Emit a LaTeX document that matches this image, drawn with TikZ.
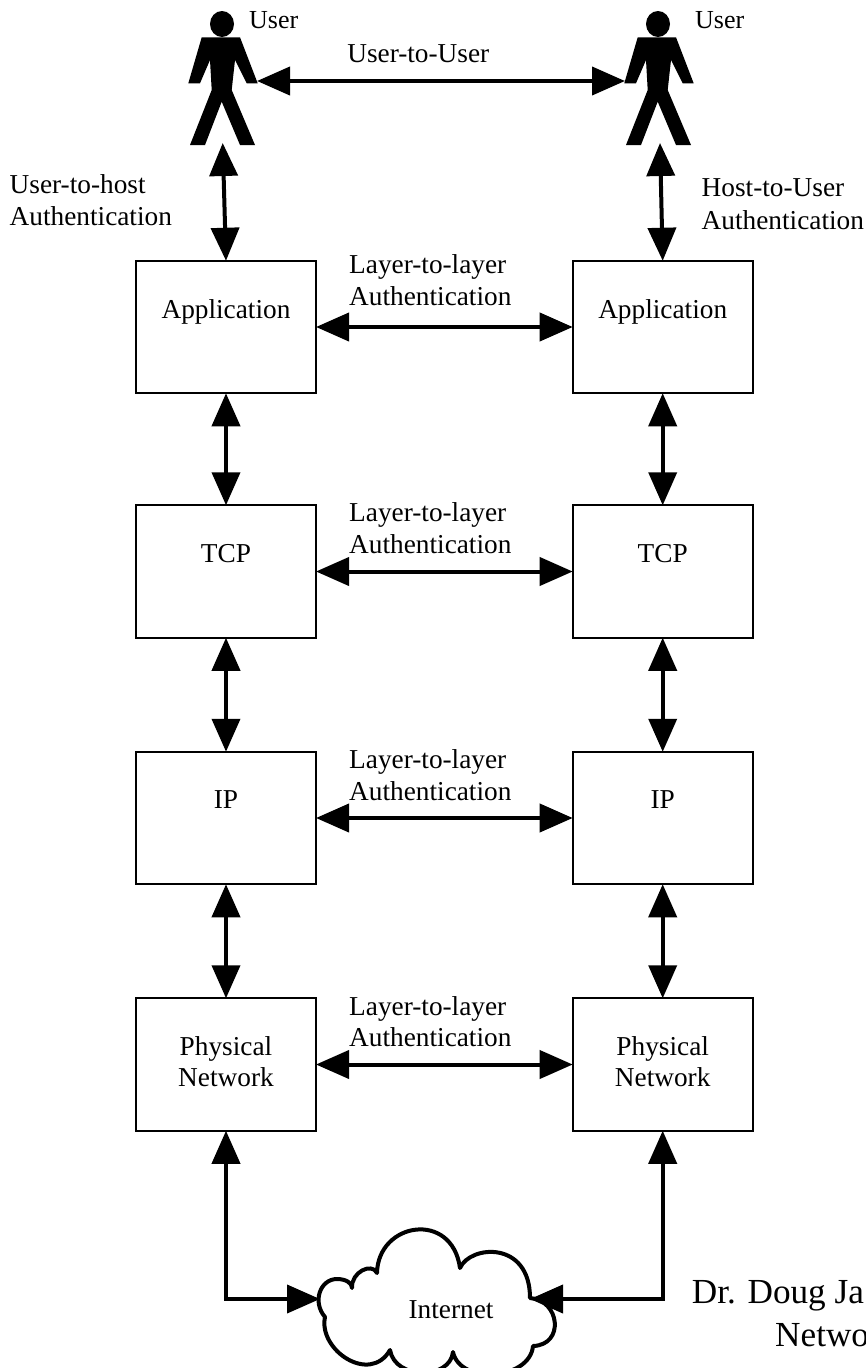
\documentclass[tikz,border=0pt]{standalone}
\usepackage{fontspec}
\setmainfont{Liberation Serif}
\usetikzlibrary{arrows.meta}
\begin{document}
\begin{tikzpicture}[x=1pt,y=-1pt,
  box/.style={draw, line width=2pt, minimum width=180pt, minimum height=132.5pt, inner sep=0pt, outer sep=0pt},
  txt/.style={font=\fontsize{27.3}{31.5}\selectfont, inner sep=0pt, anchor=base},
  lbl/.style={txt, anchor=base west},
  small/.style={font=\fontsize{26}{30}\selectfont, inner sep=0pt, anchor=base west},
  big/.style={font=\fontsize{35.2}{43}\selectfont, inner sep=0pt, anchor=base west},
  dbl/.style={line width=4pt, {Triangle[length=33pt,width=28pt]}-{Triangle[length=33pt,width=28pt]}},
  cloudline/.style={line width=4pt, line join=round},
  person/.style={fill=black}
]
\useasboundingbox (0,0) rectangle (866,1368);
\clip (0,0) rectangle (866,1368);

% ---------- users ----------
\foreach \dx/\nm in {0/L,436/R}{
  \begin{scope}[shift={(\dx,0)}]
    \fill[person] (201.7,37.3) -- (240,37.3) -- (257.7,83.3) -- (246.7,83.3) -- (235,60) -- (231.7,90)
      -- (255,145) -- (240,145) -- (221.7,101.7) -- (205,145) -- (190,145) -- (211.7,90)
      -- (210,60) -- (200,83.3) -- (188.3,83.3) -- cycle;
    \fill[person] (222,24) ellipse [x radius=12, y radius=13];
  \end{scope}
}
\coordinate (uLhand) at (257,81);
\coordinate (uRhand) at (625,81);
\coordinate (uLfeet) at (222.7,143);
\coordinate (uRfeet) at (660,143);

\node[small] (userL) at (249,28) {User};
\node[small] (userR) at (695,28) {User};
\node[txt] (u2u) at (418.3,62.3) {User-to-User};

\node[lbl] (u2h1) at (9.5,193.5) {User-to-host};
\node[lbl] (u2h2) at (9.5,225) {Authentication};
\node[lbl] (h2u1) at (701.5,196.5) {Host-to-User};
\node[lbl] (h2u2) at (701.5,229.5) {Authentication};

% ---------- boxes ----------
\node[box] (appL) at (226,327) {};
\node[box] (appR) at (662.7,327) {};
\node[box] (tcpL) at (226,571.5) {};
\node[box] (tcpR) at (662.7,571.5) {};
\node[box] (ipL) at (226,818) {};
\node[box] (ipR) at (662.7,818) {};
\node[box] (phyL) at (226,1064.5) {};
\node[box] (phyR) at (662.7,1064.5) {};

\node[txt] (appLt) at (226,318) {Application};
\node[txt] (appRt) at (662.7,318) {Application};
\node[txt] (tcpLt) at (226,562) {TCP};
\node[txt] (tcpRt) at (662.7,562) {TCP};
\node[txt] (ipLt) at (226,808.5) {IP};
\node[txt] (ipRt) at (662.7,808.5) {IP};
\node[txt] (phyLt1) at (226,1055) {Physical};
\node[txt] (phyLt2) at (226,1086) {Network};
\node[txt] (phyRt1) at (662.7,1055) {Physical};
\node[txt] (phyRt2) at (662.7,1086) {Network};

% ---------- layer labels ----------
\node[lbl] (l1a) at (349,273.5) {Layer-to-layer};
\node[lbl] (l1b) at (349,305.5) {Authentication};
\node[lbl] (l2a) at (349,521.5) {Layer-to-layer};
\node[lbl] (l2b) at (349,553) {Authentication};
\node[lbl] (l3a) at (349,768) {Layer-to-layer};
\node[lbl] (l3b) at (349,800) {Authentication};
\node[lbl] (l4a) at (349,1015) {Layer-to-layer};
\node[lbl] (l4b) at (349,1046.5) {Authentication};

% ---------- cloud ----------
\coordinate (cloudW) at (320,1299);
\coordinate (cloudE) at (530,1299);
\draw[cloudline, fill=white]
  (325,1317) .. controls (312,1302) and (320,1279) .. (337,1279)
  .. controls (346,1279) and (352,1283) .. (352,1288)
  .. controls (351,1272) and (372,1262) .. (377,1273)
  .. controls (378,1222) and (452,1210) .. (460,1268)
  .. controls (470,1245) and (530,1240) .. (530,1298)
  .. controls (560,1300) and (565,1345) .. (533,1346)
  .. controls (530,1380) and (460,1385) .. (453,1352)
  .. controls (450,1380) and (395,1380) .. (390,1350)
  .. controls (370,1385) and (318,1350) .. cycle;
\node[txt] (inet) at (451,1318.3) {Internet};

% ---------- connectors ----------
\draw[dbl] (uLhand) -- (uRhand);
\draw[dbl] (uLfeet) -- (appL.north);
\draw[dbl] (uRfeet) -- (appR.north);

\draw[dbl] (appL.east) -- (appR.west);
\draw[dbl] (tcpL.east) -- (tcpR.west);
\draw[dbl] (ipL.east) -- (ipR.west);
\draw[dbl] (phyL.east) -- (phyR.west);

\draw[dbl] (appL.south) -- (tcpL.north);
\draw[dbl] (tcpL.south) -- (ipL.north);
\draw[dbl] (ipL.south) -- (phyL.north);
\draw[dbl] (appR.south) -- (tcpR.north);
\draw[dbl] (tcpR.south) -- (ipR.north);
\draw[dbl] (ipR.south) -- (phyR.north);

\draw[dbl] (phyL.south) |- (cloudW);
\draw[dbl] (phyR.south) |- (cloudE);

% ---------- author ----------
\node[big] (auth1) at (691.7,1303) {Dr. Doug Ja};
\node[big] (auth2) at (775,1346.7) {Netwo};
\end{tikzpicture}
\end{document}
